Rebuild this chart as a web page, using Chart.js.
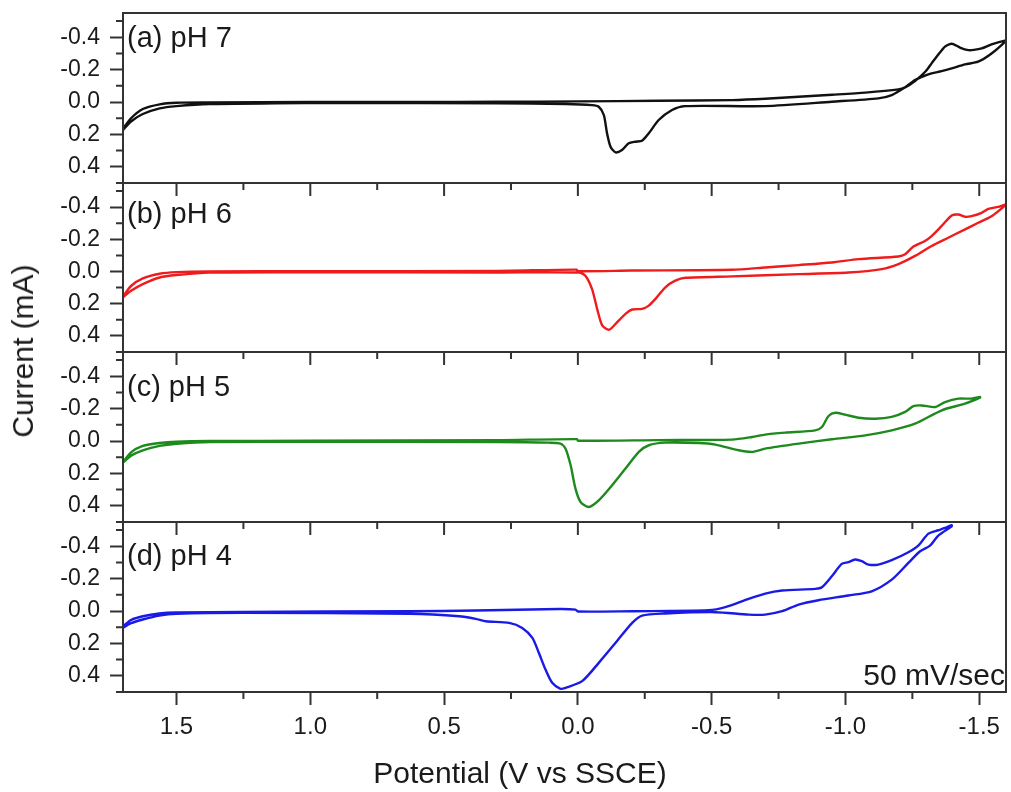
<!DOCTYPE html>
<html>
<head>
<meta charset="utf-8">
<script src="https://cdn.jsdelivr.net/npm/chart.js@4.4.1/dist/chart.umd.min.js"></script>
<style>
  body { margin: 0; background: #fff; width: 1011px; height: 792px; overflow: hidden; position: relative; }
  canvas { position: absolute; left: 0; }
  #ytitle {
    position: absolute; left: 23px; top: 351px;
    transform: translate(-50%, -50%) rotate(-90deg);
    font: 30px "Liberation Sans", Arial, sans-serif; color: #1a1a1a; white-space: nowrap;
  }
</style>
</head>
<body>
<canvas id="panel0"></canvas>
<canvas id="panel1"></canvas>
<canvas id="panel2"></canvas>
<canvas id="panel3"></canvas>
<div id="ytitle">Current (mA)</div>
<script>
// potential (V vs SSCE), current (mA) — cathodic scan then return scan
const ph7Cathodic = [[1.70,0.165],[1.67,0.10],[1.626,0.043],[1.563,0.014],[1.50,0.004],[1.377,0.002],[1.0,0.0],[0.6,0.0],[0.3,-0.002],[0.0,-0.004],[-0.3,-0.008],[-0.576,-0.012],[-0.70,-0.02],[-0.825,-0.033],[-0.95,-0.045],[-1.074,-0.058],[-1.198,-0.078],[-1.223,-0.091],[-1.26,-0.13],[-1.30,-0.19],[-1.322,-0.239],[-1.35,-0.30],[-1.372,-0.342],[-1.39,-0.358],[-1.403,-0.358],[-1.43,-0.335],[-1.459,-0.321],[-1.48,-0.322],[-1.509,-0.331],[-1.546,-0.356],[-1.596,-0.379]];
const ph7Anodic = [[-1.596,-0.372],[-1.546,-0.30],[-1.496,-0.249],[-1.447,-0.233],[-1.397,-0.208],[-1.359,-0.191],[-1.322,-0.177],[-1.297,-0.163],[-1.26,-0.136],[-1.223,-0.091],[-1.173,-0.043],[-1.123,-0.023],[-0.949,-0.002],[-0.70,0.025],[-0.40,0.025],[-0.352,0.049],[-0.302,0.111],[-0.265,0.193],[-0.24,0.239],[-0.215,0.245],[-0.19,0.255],[-0.165,0.296],[-0.141,0.311],[-0.122,0.276],[-0.109,0.193],[-0.097,0.08],[-0.078,0.029],[-0.053,0.019],[0.046,0.012],[0.3,0.008],[0.9,0.006],[1.13,0.008],[1.377,0.012],[1.50,0.025],[1.563,0.039],[1.626,0.074],[1.67,0.12],[1.70,0.173]];

const ph6Cathodic = [[1.70,0.155],[1.67,0.09],[1.626,0.043],[1.563,0.014],[1.50,0.004],[1.377,-0.001],[1.0,-0.002],[0.3,-0.004],[0.005,-0.012],[0.0,-0.002],[-0.2,-0.006],[-0.576,-0.011],[-0.70,-0.025],[-0.825,-0.040],[-0.949,-0.056],[-1.049,-0.077],[-1.198,-0.093],[-1.223,-0.107],[-1.254,-0.155],[-1.297,-0.19],[-1.322,-0.22],[-1.359,-0.282],[-1.397,-0.348],[-1.422,-0.354],[-1.447,-0.340],[-1.471,-0.344],[-1.509,-0.365],[-1.534,-0.389],[-1.571,-0.402],[-1.596,-0.416]];
const ph6Anodic = [[-1.596,-0.41],[-1.546,-0.344],[-1.496,-0.303],[-1.447,-0.262],[-1.384,-0.210],[-1.322,-0.159],[-1.260,-0.097],[-1.198,-0.046],[-1.136,-0.015],[-1.011,0.006],[-0.825,0.016],[-0.576,0.030],[-0.402,0.039],[-0.364,0.057],[-0.327,0.098],[-0.290,0.170],[-0.265,0.212],[-0.240,0.232],[-0.203,0.236],[-0.178,0.263],[-0.141,0.325],[-0.116,0.362],[-0.091,0.335],[-0.072,0.232],[-0.053,0.109],[-0.028,0.026],[-0.004,0.006],[0.3,0.006],[1.0,0.005],[1.377,0.007],[1.50,0.022],[1.563,0.037],[1.626,0.078],[1.67,0.12],[1.70,0.16]];

const ph5Cathodic = [[1.70,0.13],[1.67,0.07],[1.626,0.030],[1.563,0.012],[1.50,0.004],[1.377,0.0],[1.0,-0.002],[0.3,-0.006],[0.003,-0.012],[0.0,-0.002],[-0.3,-0.006],[-0.576,-0.009],[-0.651,-0.025],[-0.70,-0.040],[-0.775,-0.052],[-0.887,-0.066],[-0.912,-0.087],[-0.937,-0.155],[-0.962,-0.175],[-0.999,-0.163],[-1.049,-0.144],[-1.111,-0.138],[-1.173,-0.149],[-1.223,-0.180],[-1.254,-0.216],[-1.285,-0.220],[-1.335,-0.210],[-1.372,-0.241],[-1.422,-0.262],[-1.471,-0.262],[-1.503,-0.272]];
const ph5Anodic = [[-1.503,-0.268],[-1.447,-0.231],[-1.36,-0.19],[-1.26,-0.107],[-1.173,-0.066],[-1.074,-0.035],[-0.949,-0.011],[-0.825,0.016],[-0.70,0.047],[-0.651,0.067],[-0.601,0.057],[-0.514,0.022],[-0.451,0.012],[-0.327,0.010],[-0.265,0.026],[-0.228,0.067],[-0.178,0.170],[-0.128,0.273],[-0.078,0.366],[-0.041,0.407],[-0.010,0.376],[0.009,0.294],[0.027,0.150],[0.046,0.047],[0.065,0.016],[0.108,0.010],[0.3,0.006],[1.0,0.004],[1.377,0.006],[1.50,0.017],[1.563,0.030],[1.626,0.057],[1.67,0.09],[1.70,0.133]];

const ph4Cathodic = [[1.70,0.094],[1.67,0.055],[1.626,0.032],[1.564,0.015],[1.501,0.009],[1.252,0.005],[0.63,0.001],[0.382,-0.003],[0.071,-0.013],[0.009,-0.009],[0.0,0.003],[-0.203,0.001],[-0.489,-0.005],[-0.551,-0.024],[-0.638,-0.075],[-0.700,-0.108],[-0.763,-0.127],[-0.887,-0.137],[-0.912,-0.147],[-0.949,-0.215],[-0.986,-0.291],[-1.011,-0.302],[-1.036,-0.318],[-1.061,-0.308],[-1.086,-0.287],[-1.123,-0.287],[-1.173,-0.314],[-1.235,-0.363],[-1.272,-0.404],[-1.310,-0.478],[-1.347,-0.499],[-1.372,-0.513],[-1.397,-0.530]];
const ph4Anodic = [[-1.397,-0.524],[-1.347,-0.466],[-1.316,-0.404],[-1.279,-0.369],[-1.235,-0.297],[-1.173,-0.194],[-1.098,-0.122],[-1.011,-0.096],[-0.899,-0.067],[-0.825,-0.040],[-0.763,0.001],[-0.700,0.022],[-0.638,0.022],[-0.514,0.007],[-0.327,0.015],[-0.240,0.028],[-0.203,0.073],[-0.141,0.196],[-0.078,0.320],[-0.016,0.433],[0.046,0.474],[0.065,0.480],[0.096,0.443],[0.121,0.361],[0.146,0.258],[0.170,0.166],[0.208,0.104],[0.257,0.073],[0.344,0.063],[0.382,0.048],[0.444,0.032],[0.63,0.017],[1.252,0.011],[1.501,0.017],[1.564,0.028],[1.626,0.052],[1.67,0.075],[1.70,0.104]];

const xMajor = [1.5, 1.0, 0.5, 0.0, -0.5, -1.0, -1.5];
const xMinor = [1.25, 0.75, 0.25, -0.25, -0.75, -1.25];
const yMajor = [-0.4, -0.2, 0.0, 0.2, 0.4];
const yMinor = [-0.5, -0.3, -0.1, 0.1, 0.3, 0.5];
const panelLabels = ['(a) pH 7', '(b) pH 6', '(c) pH 5', '(d) pH 4'];
const scanRate = '50 mV/sec';
const xTitle = 'Potential (V vs SSCE)';

const loops = [
  ph7Cathodic.concat(ph7Anodic),
  ph6Cathodic.concat(ph6Anodic),
  ph5Cathodic.concat(ph5Anodic),
  ph4Cathodic.concat(ph4Anodic)
];
const colors = ['#111111', '#ee1c1c', '#1e8a1e', '#1a1ae6'];

// layout of the stacked panels (pixels in the page)
const panelTops = [13, 183, 352, 522];
const panelBottoms = [183, 352, 522, 692];
const labelOffsets = [26, 32, 36, 35];
const FONT = '"Liberation Sans", Arial, sans-serif';
const INK = '#1a1a1a';
const FRAME = '#333';
const M = 30;

const panelDecor = {
  id: 'panelDecor',
  afterDraw(chart, args, opts) {
    const { ctx, chartArea: a, scales: { x, y } } = chart;
    ctx.save();
    ctx.strokeStyle = FRAME;
    ctx.lineWidth = 2;
    ctx.strokeRect(a.left, a.top, a.right - a.left, a.bottom - a.top);

    ctx.beginPath();
    yMinor.forEach(v => {
      const py = y.getPixelForValue(v);
      ctx.moveTo(a.left - 7, py); ctx.lineTo(a.left, py);
    });
    if (opts.topTicks) {
      xMajor.forEach(v => { const px = x.getPixelForValue(v); ctx.moveTo(px, a.top); ctx.lineTo(px, a.top + 13); });
      xMinor.forEach(v => { const px = x.getPixelForValue(v); ctx.moveTo(px, a.top); ctx.lineTo(px, a.top + 7); });
    }
    if (opts.bottomAxis) {
      xMinor.forEach(v => { const px = x.getPixelForValue(v); ctx.moveTo(px, a.bottom); ctx.lineTo(px, a.bottom + 7); });
    }
    ctx.stroke();

    ctx.fillStyle = INK;
    ctx.textBaseline = 'middle';
    ctx.font = '29px ' + FONT;
    ctx.textAlign = 'left';
    ctx.fillText(opts.label, a.left + 4, a.top + opts.labelOffset);
    if (opts.bottomAxis) {
      ctx.font = '30px ' + FONT;
      ctx.textAlign = 'right';
      ctx.fillText(scanRate, a.right - 1, a.bottom - 15);
      ctx.textAlign = 'center';
      ctx.fillText(xTitle, 520, a.bottom + 83);
    }
    ctx.restore();
  }
};

function makePanel(i) {
  const canvas = document.getElementById('panel' + i);
  const last = i === 3;
  const top = panelTops[i];
  const h = panelBottoms[i] - top;
  canvas.width = 1011;
  canvas.height = last ? (792 - top + M) : h + 2 * M;
  canvas.style.top = (top - M) + 'px';

  new Chart(canvas, {
    type: 'scatter',
    data: {
      datasets: [{
        data: loops[i].map(p => ({ x: p[0], y: p[1] })),
        showLine: true,
        borderColor: colors[i],
        borderWidth: 2.4,
        pointRadius: 0,
        tension: 0.25,
        fill: false
      }]
    },
    options: {
      responsive: false,
      animation: false,
      events: [],
      layout: { padding: { top: M, bottom: last ? 0 : M, left: 0, right: 5 } },
      plugins: {
        legend: { display: false },
        tooltip: { enabled: false },
        panelDecor: { label: panelLabels[i], labelOffset: labelOffsets[i], topTicks: i > 0, bottomAxis: last }
      },
      scales: {
        x: {
          type: 'linear',
          reverse: true,
          min: -1.6,
          max: 1.7,
          display: last,
          afterBuildTicks: s => { s.ticks = xMajor.map(v => ({ value: v })); },
          afterFit: s => { s.height = last ? 792 - panelBottoms[3] : 0; },
          grid: { display: true, drawOnChartArea: false, drawTicks: true, tickLength: 13, tickWidth: 2, tickColor: FRAME },
          border: { display: false },
          ticks: {
            autoSkip: false, maxRotation: 0, padding: 8, color: INK,
            font: { size: 24, family: FONT },
            callback: v => Number(v).toFixed(1)
          }
        },
        y: {
          type: 'linear',
          reverse: true,
          min: -0.55,
          max: 0.5,
          afterBuildTicks: s => { s.ticks = yMajor.map(v => ({ value: v })); },
          afterFit: s => { s.width = 123; },
          grid: { display: true, drawOnChartArea: false, drawTicks: true, tickLength: 13, tickWidth: 2, tickColor: FRAME },
          border: { display: false },
          ticks: {
            autoSkip: false, padding: 10, color: INK,
            font: { size: 23, family: FONT },
            callback: v => Number(v).toFixed(1)
          }
        }
      }
    },
    plugins: [panelDecor]
  });
}

for (let i = 0; i < 4; i++) makePanel(i);
</script>
</body>
</html>
